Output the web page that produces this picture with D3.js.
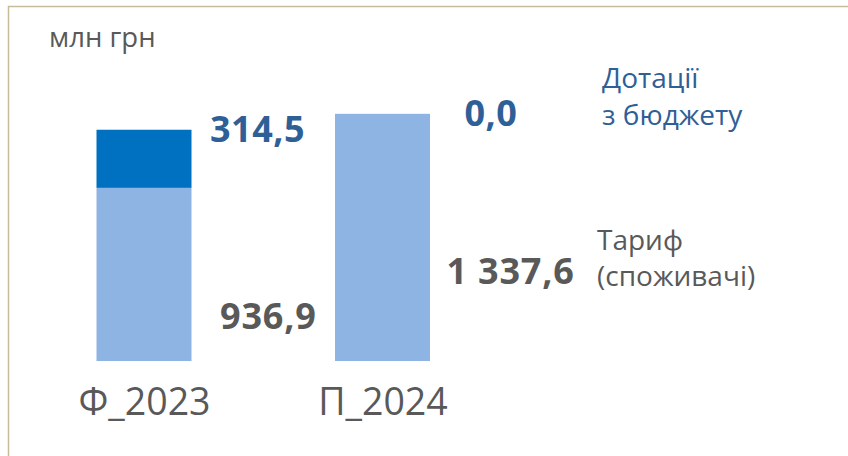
<!DOCTYPE html>
<html><head><meta charset="utf-8">
<script src="https://cdn.jsdelivr.net/npm/d3@7"></script>
<style>
html,body{margin:0;padding:0;background:#fff;}
svg{display:block;font-family:"Open Sans",sans-serif;}
</style></head>
<body>
<svg id="c" width="848" height="456"></svg>
<script>
const categories = ["Ф_2023", "П_2024"];
const tariff = [936.9, 1337.6];
const subsidy = [314.5, 0.0];
const tariffLabels = ["936,9", "1 337,6"];
const subsidyLabels = ["314,5", "0,0"];
const unitLabel = "млн грн";
const legendSubsidy = ["Дотації", "з бюджету"];
const legendTariff = ["Тариф", "(споживачі)"];

const svg = d3.select("#c");
const lightC = "#8eb4e3", darkC = "#0070c0", blueT = "#2f5f97", grayT = "#595959";

// frame
svg.append("rect").attr("x", 8.5).attr("y", 6.5).attr("width", 860).attr("height", 460)
  .attr("fill", "none").attr("stroke", "#c4bd97").attr("stroke-width", 1.5);

const x = d3.scalePoint().domain(categories).range([144, 382.5]);
const bw = 95;
const y = d3.scaleLinear().domain([0, 1400]).range([361, 361 - 1400 * 0.1848]);

const rows = categories.map((c, i) => ({c, t: tariff[i], s: subsidy[i], tl: tariffLabels[i], sl: subsidyLabels[i]}));

// bars
svg.selectAll("rect.t").data(rows).join("rect").attr("class", "t")
  .attr("x", d => x(d.c) - bw / 2).attr("width", bw)
  .attr("y", d => y(d.t)).attr("height", d => y(0) - y(d.t)).attr("fill", lightC);
svg.selectAll("rect.s").data(rows).join("rect").attr("class", "s")
  .attr("x", d => x(d.c) - bw / 2).attr("width", bw)
  .attr("y", d => y(d.t + d.s)).attr("height", d => y(d.t) - y(d.t + d.s)).attr("fill", darkC);

// x axis labels
const xAxis = d3.axisBottom(x).tickSize(0).tickPadding(0);
const gx = svg.append("g").attr("transform", "translate(0,415)").call(xAxis);
gx.select(".domain").remove();
gx.selectAll("text").attr("font-size", 37.5).attr("fill", grayT)
  .attr("font-family", "'Open Sans',sans-serif").attr("dy", "0").attr("y", 0);

// value labels
const subOff = [{dx: 66, dy: 12}, {dx: 82, dy: 12}];
svg.selectAll("text.sl").data(rows).join("text").attr("class", "sl")
  .attr("x", (d, i) => x(d.c) + subOff[i].dx)
  .attr("y", (d, i) => y(d.t + d.s) + subOff[i].dy)
  .attr("font-size", 36).attr("font-weight", "bold").attr("fill", blueT)
  .attr("letter-spacing", 0.5)
  .text(d => d.sl);
const tarOff = [{dx: 76, dy: 141}, {dx: 64, dy: 170}];
svg.selectAll("text.tl").data(rows).join("text").attr("class", "tl")
  .attr("x", (d, i) => x(d.c) + tarOff[i].dx)
  .attr("y", (d, i) => y(d.t) + tarOff[i].dy)
  .attr("font-size", 36).attr("font-weight", "bold").attr("fill", grayT)
  .attr("letter-spacing", 0.8)
  .text(d => d.tl);

// unit
svg.append("text").attr("x", 49).attr("y", 47).attr("font-size", 27.5).attr("fill", grayT).text(unitLabel);

// legends
svg.selectAll("text.ls").data(legendSubsidy).join("text").attr("class", "ls")
  .attr("x", 602).attr("y", (d, i) => 88 + i * 37).attr("font-size", 28).attr("fill", blueT).text(d => d);
svg.selectAll("text.lt").data(legendTariff).join("text").attr("class", "lt")
  .attr("x", 597).attr("y", (d, i) => 250 + i * 36).attr("font-size", 28).attr("fill", grayT).text(d => d);
</script>
</body></html>
